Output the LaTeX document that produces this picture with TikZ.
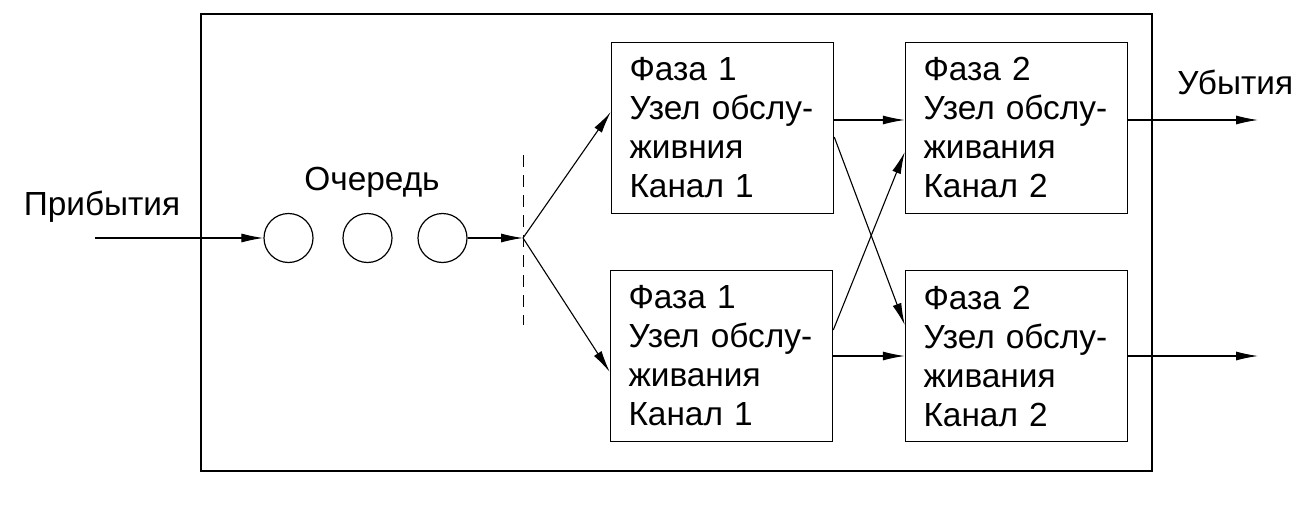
\documentclass[tikz,border=0pt]{standalone}
\usepackage{fontspec}
\setmainfont{Liberation Sans}
\usetikzlibrary{arrows.meta}
\begin{document}
\begin{tikzpicture}[x=0.5pt,y=-0.5pt,
  every node/.style={font=\fontsize{16.7}{19.5}\selectfont},
  srvbox/.style={draw,line width=0.75pt,minimum width=111pt,minimum height=85.5pt,
    inner xsep=9pt,inner ysep=0pt,text width=93pt,align=left},
  qcirc/.style={draw,circle,line width=0.6pt,minimum size=24.5pt,inner sep=0pt},
  lbl/.style={inner sep=0pt},
  arr/.style={line width=0.55pt,-{Latex[length=11pt,width=4.5pt]}}]
\useasboundingbox (0,0) rectangle (1316,508);
\draw[line width=0.85pt] (201,14) rectangle (1152,471);
% labels
\node[lbl,anchor=base] (arrl) at (102,215) {Прибытия};
\node[lbl,anchor=base] (ql) at (372,190) {Очередь};
\node[lbl,anchor=base west] (depl) at (1177,95) {Убытия};
% queue
\coordinate (in) at (95,238);
\node[qcirc] (c1) at (288.5,238) {};
\node[qcirc] (c2) at (367.5,238) {};
\node[qcirc] (c3) at (442.5,238) {};
\coordinate (s) at (523,238);
\coordinate (d1) at (523,155);
\coordinate (d2) at (523,325);
\draw[line width=0.5pt,dash pattern=on 6pt off 4pt] (d1) -- (d2);
% boxes
\node[srvbox] (TL) at (722.5,128) {Фаза 1\\Узел обслу-\\живния\\Канал 1};
\node[srvbox] (BL) at (721.5,356) {Фаза 1\\Узел обслу-\\живания\\Канал 1};
\node[srvbox] (TR) at (1016.5,128) {Фаза 2\\Узел обслу-\\живания\\Канал 2};
\node[srvbox] (BR) at (1016.5,356) {Фаза 2\\Узел обслу-\\живания\\Канал 2};
\coordinate (o1) at (1258,120);
\coordinate (o2) at (1258,356);
% connectors
\draw[arr] (in) -- (c1);
\draw[arr] (c3) -- (s);
\draw[arr] (s) -- ([yshift=8pt]TL.west);
\draw[arr] (s) -- ([yshift=-8pt]BL.west);
\draw[arr] ([yshift=4pt]TL.east) -- ([yshift=4pt]TR.west);
\draw[arr] (BL.east) -- (BR.west);
\draw[arr] ([yshift=-4.5pt]TL.east) -- ([yshift=15.5pt]BR.west);
\draw[arr] ([yshift=13pt]BL.east) -- ([yshift=-12pt]TR.west);
\draw[arr] ([yshift=4pt]TR.east) -- (o1);
\draw[arr] (BR.east) -- (o2);
\end{tikzpicture}
\end{document}
